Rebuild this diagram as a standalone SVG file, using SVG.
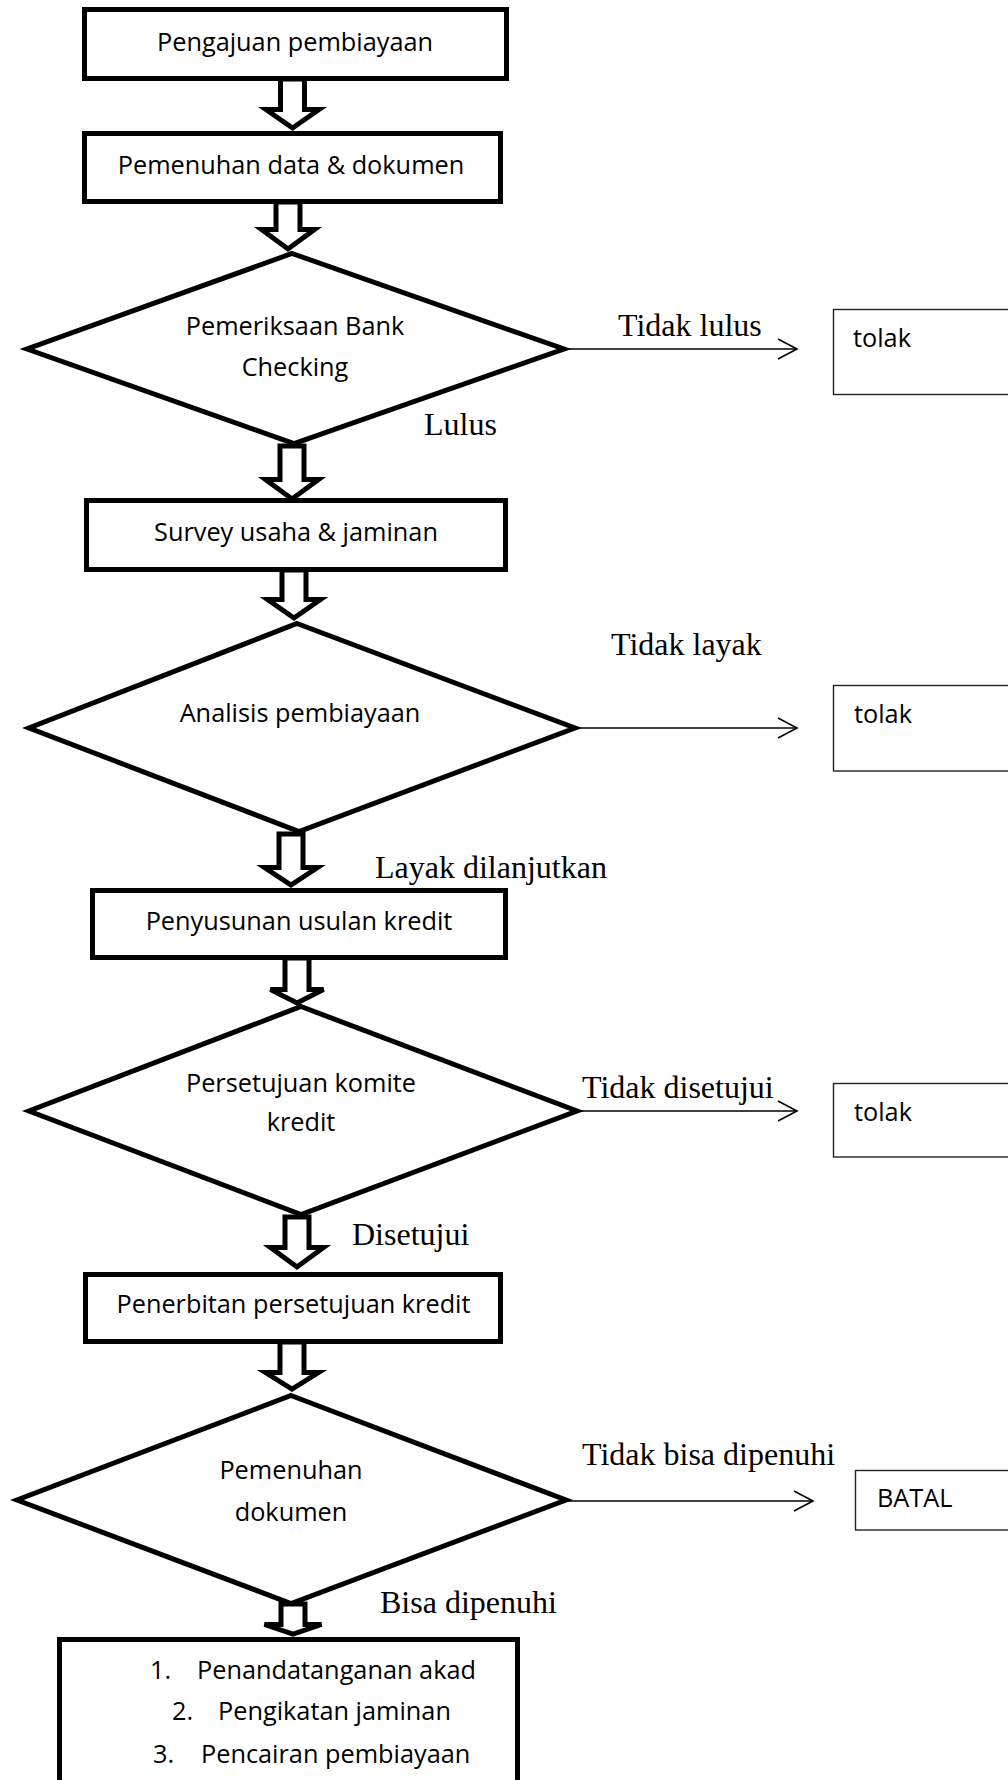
<svg xmlns="http://www.w3.org/2000/svg" width="1008" height="1780" viewBox="0 0 1008 1780">
<style>
.box{fill:#fff;stroke:#000;stroke-width:5}
.dia{fill:#fff;stroke:#000;stroke-width:5;stroke-linejoin:miter}
.thin{fill:#fff;stroke:#222;stroke-width:1.4}
.blk{fill:#fff;stroke:#000;stroke-width:5;stroke-linejoin:miter}
.ln{fill:none;stroke:#000;stroke-width:1.6}
.t{font-family:"Open Sans","Noto Sans",sans-serif;font-size:25.3px;fill:#000}
.c{text-anchor:middle}
.s{font-family:"Liberation Serif","Times New Roman",serif;font-size:32px;fill:#000}
</style>
<defs>
<marker id="open" markerUnits="userSpaceOnUse" markerWidth="24" markerHeight="24" viewBox="-22 -12 24 24" refX="0" refY="0" orient="auto">
<path d="M -19 -10 L 0 0 L -19 10" fill="none" stroke="#000" stroke-width="1.6"/>
</marker>
</defs>
<rect width="1008" height="1780" fill="#fff"/>

<g id="n1"><rect class="box" x="84.5" y="9.5" width="422" height="69"/><text class="t c" x="295" y="51">Pengajuan pembiayaan</text></g>
<g id="n2"><rect class="box" x="84.5" y="133.5" width="416" height="68"/><text class="t c" x="291" y="174">Pemenuhan data &amp; dokumen</text></g>
<g id="d1"><polygon class="dia" points="292,253.5 564,349 294,443.5 27,349"/><text class="t c" x="295" y="335">Pemeriksaan Bank</text><text class="t c" x="295" y="376">Checking</text></g>
<g id="r1"><rect class="thin" x="833.5" y="309.5" width="200" height="85"/><text class="t" x="853" y="347">tolak</text></g>
<g id="n3"><rect class="box" x="86.5" y="500.5" width="419" height="69"/><text class="t c" x="296" y="541">Survey usaha &amp; jaminan</text></g>
<g id="d2"><polygon class="dia" points="297,623.5 575,728 299,831.5 29,728"/><text class="t c" x="300" y="722">Analisis pembiayaan</text></g>
<g id="r2"><rect class="thin" x="833.5" y="685.5" width="200" height="85.5"/><text class="t" x="854" y="723">tolak</text></g>
<g id="n4"><rect class="box" x="92.5" y="890.5" width="413" height="67"/><text class="t c" x="299" y="930">Penyusunan usulan kredit</text></g>
<g id="d3"><polygon class="dia" points="301,1006.5 577,1111 301,1214.5 29,1111"/><text class="t c" x="301" y="1092">Persetujuan komite</text><text class="t c" x="301" y="1131">kredit</text></g>
<g id="r3"><rect class="thin" x="833.5" y="1083.5" width="200" height="73.5"/><text class="t" x="854" y="1121">tolak</text></g>
<g id="n5"><rect class="box" x="85.5" y="1274.5" width="415" height="67"/><text class="t c" x="293.5" y="1313">Penerbitan persetujuan kredit</text></g>
<g id="d4"><polygon class="dia" points="291,1395.5 566,1500 291,1603.5 17,1500"/><text class="t c" x="291" y="1479">Pemenuhan</text><text class="t c" x="291" y="1521">dokumen</text></g>
<g id="r4"><rect class="thin" x="855.5" y="1470.5" width="200" height="59.5"/><text class="t" x="877" y="1507">BATAL</text></g>
<g id="n6"><rect class="box" x="59.5" y="1639.5" width="458" height="200"/>
<text class="t" x="150" y="1679">1.</text><text class="t" x="197" y="1679">Penandatanganan akad</text>
<text class="t" x="172" y="1720">2.</text><text class="t" x="218" y="1720">Pengikatan jaminan</text>
<text class="t" x="153" y="1763">3.</text><text class="t" x="201" y="1763">Pencairan pembiayaan</text></g>

<g id="connectors">
<path class="blk" d="M280.5,79 V109.5 H266 L292.5,128 L319,109.5 H304.5 V79 Z"/>
<path class="blk" d="M276,202 V229.5 H261.5 L288,249 L314.5,229.5 H300 V202 Z"/>
<path class="blk" d="M280,446 V479.5 H265.5 L292,499 L318.5,479.5 H304 V446 Z"/>
<path class="blk" d="M282,570 V599.5 H267.5 L294,618 L320.5,599.5 H306 V570 Z"/>
<path class="blk" d="M279,834 V867.5 H264.5 L291,885 L317.5,867.5 H303 V834 Z"/>
<path class="blk" d="M285,958 V989.5 H270.5 L297,1003 L323.5,989.5 H309 V958 Z"/>
<path class="blk" d="M285,1217 V1247.5 H270.5 L297,1267 L323.5,1247.5 H309 V1217 Z"/>
<path class="blk" d="M280,1342 V1372.5 H265.5 L292,1389 L318.5,1372.5 H304 V1342 Z"/>
<path class="blk" d="M281,1604 V1624.5 H264.5 L293,1634 L321.5,1624.5 H305 V1604 Z"/>
<line class="ln" x1="564" y1="349" x2="797" y2="349" marker-end="url(#open)"/>
<line class="ln" x1="575" y1="728" x2="797" y2="728" marker-end="url(#open)"/>
<line class="ln" x1="577" y1="1111" x2="797" y2="1111" marker-end="url(#open)"/>
<line class="ln" x1="566" y1="1501" x2="813" y2="1501" marker-end="url(#open)"/>
<text class="s" x="618" y="336">Tidak lulus</text>
<text class="s" x="424" y="435">Lulus</text>
<text class="s" x="611" y="655">Tidak layak</text>
<text class="s" x="375" y="878">Layak dilanjutkan</text>
<text class="s" x="582" y="1098">Tidak disetujui</text>
<text class="s" x="352" y="1245">Disetujui</text>
<text class="s" x="582" y="1465">Tidak bisa dipenuhi</text>
<text class="s" x="380" y="1613">Bisa dipenuhi</text>
</g>
</svg>
